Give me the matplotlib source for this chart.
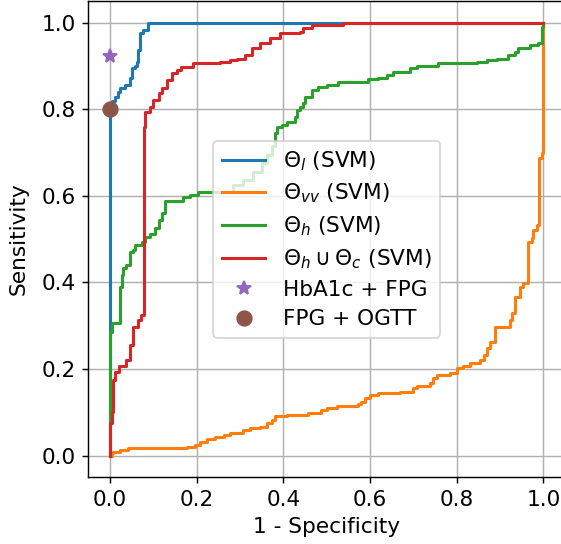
import numpy as np
import matplotlib
matplotlib.use('Agg')
import matplotlib.pyplot as plt

# ROC points (fpr, tpr)
fpr_l = [0, 0, 0.004, 0.012, 0.019, 0.023, 0.035, 0.046, 0.050, 0.058, 0.062, 0.065, 0.069, 0.076, 0.088, 1.0]
tpr_l = [0, 0.814, 0.820, 0.829, 0.840, 0.849, 0.856, 0.872, 0.895, 0.900, 0.910, 0.937, 0.976, 0.983, 1.0, 1.0]

fpr_vv = [0, 0.004, 0.008, 0.023, 0.042, 0.177, 0.196, 0.208, 0.223, 0.242, 0.262, 0.277, 0.308, 0.323,
          0.346, 0.362, 0.373, 0.381, 0.408, 0.458, 0.488, 0.500, 0.523, 0.573, 0.580, 0.589, 0.600,
          0.619, 0.669, 0.700, 0.708, 0.739, 0.746, 0.754, 0.785, 0.800, 0.815, 0.831, 0.854, 0.862,
          0.869, 0.877, 0.888, 0.923, 0.927, 0.935, 0.946, 0.954, 0.965, 0.973, 0.977, 0.985, 0.991,
          0.997, 1.0]
tpr_vv = [0, 0.006, 0.009, 0.013, 0.017, 0.021, 0.025, 0.032, 0.038, 0.044, 0.048, 0.052, 0.059, 0.063,
          0.067, 0.075, 0.082, 0.092, 0.095, 0.099, 0.105, 0.111, 0.115, 0.119, 0.125, 0.132, 0.140,
          0.144, 0.148, 0.156, 0.161, 0.167, 0.179, 0.186, 0.190, 0.202, 0.208, 0.215, 0.221, 0.232,
          0.248, 0.263, 0.298, 0.313, 0.329, 0.367, 0.390, 0.398, 0.494, 0.502, 0.521, 0.533, 0.687,
          0.698, 1.0]

fpr_h = [0, 0, 0.004, 0.023, 0.027, 0.031, 0.038, 0.046, 0.054, 0.058, 0.073, 0.081, 0.092, 0.104,
         0.112, 0.119, 0.127, 0.169, 0.185, 0.204, 0.284, 0.308, 0.330, 0.350, 0.362, 0.373, 0.381,
         0.385, 0.396, 0.408, 0.427, 0.431, 0.438, 0.446, 0.450, 0.466, 0.481, 0.500, 0.527, 0.596,
         0.619, 0.639, 0.654, 0.692, 0.708, 0.758, 0.846, 0.869, 0.892, 0.919, 0.935, 0.942, 0.969,
         0.988, 0.997, 1.0]
tpr_h = [0, 0.286, 0.306, 0.390, 0.417, 0.433, 0.440, 0.471, 0.475, 0.487, 0.494, 0.506, 0.513, 0.525,
         0.544, 0.560, 0.587, 0.598, 0.602, 0.610, 0.624, 0.636, 0.656, 0.675, 0.694, 0.714, 0.745,
         0.760, 0.764, 0.771, 0.783, 0.798, 0.806, 0.814, 0.829, 0.845, 0.852, 0.856, 0.864, 0.869,
         0.871, 0.879, 0.887, 0.895, 0.900, 0.906, 0.910, 0.914, 0.917, 0.925, 0.933, 0.941, 0.949,
         0.952, 0.990, 1.0]

fpr_hc = [0, 0, 0.004, 0.008, 0.012, 0.021, 0.038, 0.046, 0.054, 0.065, 0.072, 0.079, 0.081, 0.092,
          0.100, 0.112, 0.119, 0.132, 0.142, 0.154, 0.165, 0.192, 0.254, 0.277, 0.292, 0.312, 0.327,
          0.346, 0.369, 0.392, 0.438, 0.446, 0.466, 0.538, 1.0]
tpr_hc = [0, 0.075, 0.100, 0.175, 0.194, 0.206, 0.221, 0.256, 0.298, 0.313, 0.325, 0.760, 0.794, 0.806,
          0.821, 0.837, 0.849, 0.868, 0.883, 0.890, 0.898, 0.906, 0.910, 0.914, 0.917, 0.925, 0.941,
          0.952, 0.964, 0.976, 0.979, 0.987, 0.994, 1.0, 1.0]

# single operating points of the clinical tests
hba1c_fpg = (0.0, 0.923)
fpg_ogtt = (0.0, 0.80)

plt.rcParams['font.size'] = 12

fig = plt.figure(figsize=(561 / 130, 544 / 130), dpi=130)
ax = fig.add_axes([0.1574, 0.1226, 0.8497, 0.8756])

ax.plot(fpr_l, tpr_l, drawstyle='steps-post', color='C0', lw=1.7, label=r'$\Theta_l$ (SVM)')
ax.plot(fpr_vv, tpr_vv, drawstyle='steps-post', color='C1', lw=1.7, label=r'$\Theta_{vv}$ (SVM)')
ax.plot(fpr_h, tpr_h, drawstyle='steps-post', color='C2', lw=1.7, label=r'$\Theta_h$ (SVM)')
ax.plot(fpr_hc, tpr_hc, drawstyle='steps-post', color='C3', lw=1.7, label=r'$\Theta_h \cup \Theta_c$ (SVM)')
ax.plot(*hba1c_fpg, '*', color='C4', markersize=8, label='HbA1c + FPG')
ax.plot(*fpg_ogtt, 'o', color='C5', markersize=8, label='FPG + OGTT')

ax.set_xlim(-0.05, 1.05)
ax.set_ylim(-0.05, 1.05)
ax.set_xlabel('1 - Specificity')
ax.set_ylabel('Sensitivity', labelpad=7)
ax.grid(True)
ax.legend(loc='center', labelspacing=0.42)

fig.savefig('out.png', dpi=130)
